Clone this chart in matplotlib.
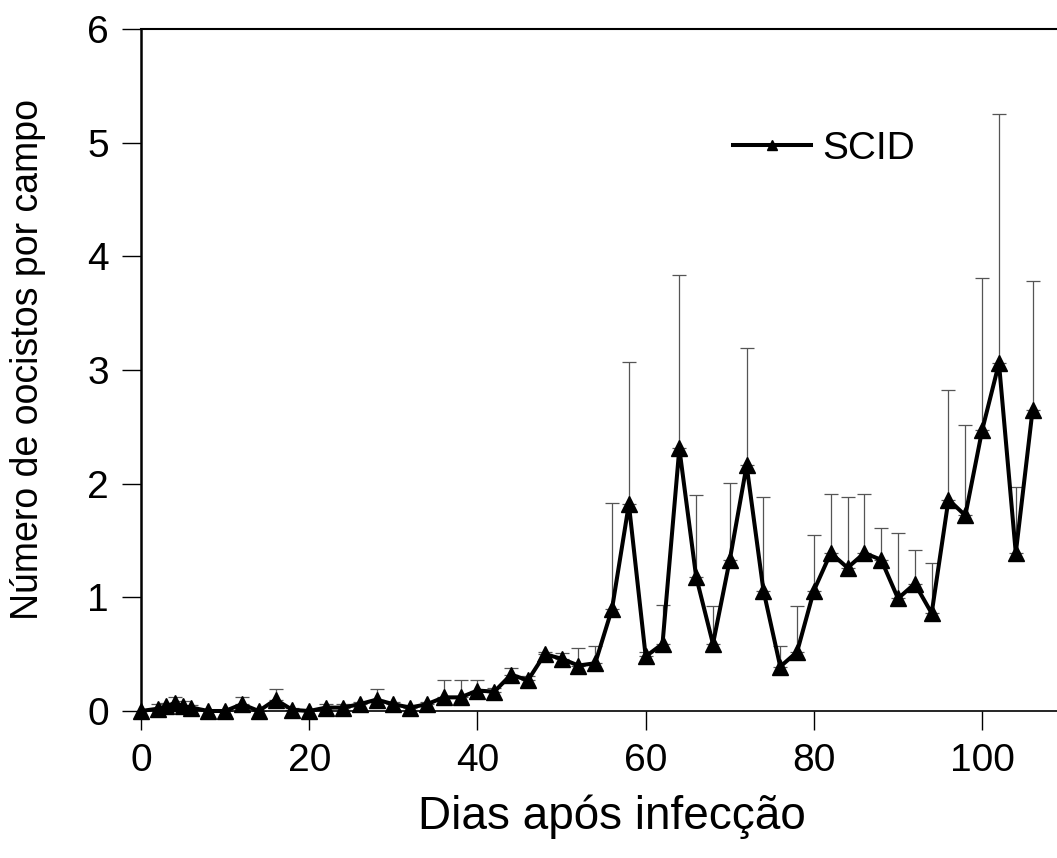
import matplotlib
matplotlib.use("Agg")
import matplotlib.pyplot as plt
import numpy as np

days = [0, 2, 3, 4, 5, 6, 8, 10, 12, 14, 16, 18, 20, 22, 24, 26, 28, 30, 32, 34,
        36, 38, 40, 42, 44, 46, 48, 50, 52, 54, 56, 58, 60, 62, 64, 66, 68, 70,
        72, 74, 76, 78, 80, 82, 84, 86, 88, 90, 92, 94, 96, 98, 100, 102, 104, 106]
mean = [0.00, 0.02, 0.04, 0.07, 0.04, 0.03, 0.00, 0.00, 0.06, 0.00, 0.10, 0.01,
        0.00, 0.03, 0.03, 0.06, 0.10, 0.06, 0.03, 0.06, 0.12, 0.12, 0.18, 0.17,
        0.32, 0.27, 0.50, 0.46, 0.40, 0.42, 0.90, 1.82, 0.48, 0.59, 2.31, 1.18,
        0.59, 1.33, 2.16, 1.06, 0.39, 0.52, 1.06, 1.39, 1.26, 1.39, 1.33, 0.99,
        1.12, 0.86, 1.86, 1.72, 2.47, 3.06, 1.39, 2.65]
upper = [0.00, 0.06, 0.07, 0.12, 0.09, 0.05, 0.00, 0.00, 0.12, 0.00, 0.19, 0.03,
         0.00, 0.06, 0.06, 0.08, 0.19, 0.08, 0.05, 0.08, 0.27, 0.27, 0.27, 0.20,
         0.38, 0.31, 0.52, 0.51, 0.55, 0.57, 1.83, 3.07, 0.52, 0.93, 3.84, 1.90,
         0.92, 2.01, 3.19, 1.88, 0.57, 0.92, 1.55, 1.91, 1.88, 1.91, 1.61, 1.57,
         1.42, 1.30, 2.82, 2.52, 3.81, 5.25, 1.97, 3.78]
series_label = "SCID"
x_ticks = [0, 20, 40, 60, 80, 100]
y_ticks = [0, 1, 2, 3, 4, 5, 6]

plt.rcParams['font.family'] = ['Liberation Sans', 'DejaVu Sans']

fig = plt.figure(figsize=(10.57, 8.58), dpi=100)
ax = fig.add_axes([141/1057, 1 - 711/858, 1 - 141/1057, (711 - 29)/858])

m = np.array(mean)
u = np.array(upper)
yerr = np.vstack([np.zeros_like(m), np.clip(u - m, 0, None)])

ax.errorbar(days, m, yerr=yerr, fmt='none', ecolor='#555555', elinewidth=0.9,
            capsize=5, capthick=0.9, zorder=2)
ax.plot(days, m, color='black', lw=2.9, marker='^', markersize=11,
        markerfacecolor='black', markeredgecolor='black', label=series_label,
        zorder=3, clip_on=False)

ax.set_xlim(0, 108.9)
ax.set_ylim(0, 6)
ax.set_xticks(x_ticks)
ax.set_yticks(y_ticks)

ax.spines['right'].set_visible(False)
ax.spines['left'].set_linewidth(1.8)
ax.spines['top'].set_linewidth(1.5)
ax.spines['bottom'].set_linewidth(1.2)

ax.tick_params(axis='both', direction='out', length=14, width=1.0,
               labelsize=28, colors='black')
ax.tick_params(axis='x', pad=9)
ax.tick_params(axis='y', pad=9)

ax.set_xlabel("Dias após infecção", fontsize=33)
ax.xaxis.set_label_coords(0.514, -0.122)
ax.set_ylabel("Número de oocistos por campo", fontsize=27)
ax.yaxis.set_label_coords(-0.104, 0.515)

leg = ax.legend(loc='center left', bbox_to_anchor=(0.646, 0.824), frameon=False,
                fontsize=28, handlelength=2.0, handletextpad=0.3,
                borderpad=0, borderaxespad=0, markerscale=0.7)

fig.savefig("out.png", dpi=100)
